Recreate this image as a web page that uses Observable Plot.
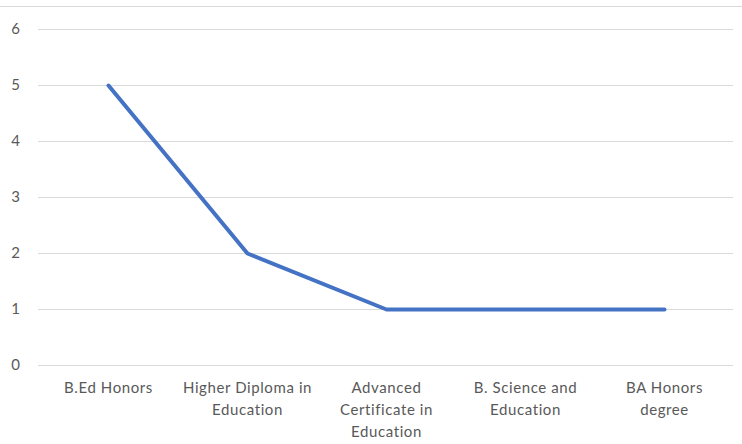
<!DOCTYPE html>
<html>
<head>
<meta charset="utf-8">
<script src="https://cdn.jsdelivr.net/npm/d3@7"></script>
<script src="https://cdn.jsdelivr.net/npm/@observablehq/plot@0.6"></script>
<style>
  body { margin: 0; background: #fff; }
  #top { height: 6px; border-bottom: 1px solid #d9d9d9; }
  #chart svg { display: block; }
  #chart svg text { letter-spacing: 0.6px; }
</style>
</head>
<body>
<div id="top"></div>
<div id="chart"></div>
<script>
const categories = ["B.Ed Honors", "Higher Diploma in Education", "Advanced Certificate in Education", "B. Science and Education", "BA Honors degree"];
const tickLabels = ["B.Ed Honors", "Higher Diploma in\nEducation", "Advanced\nCertificate in\nEducation", "B. Science and\nEducation", "BA Honors\ndegree"];
const values = [5, 2, 1, 1, 1];
const yTicks = [0, 1, 2, 3, 4, 5, 6];

const data = categories.map((c, i) => ({category: c, value: values[i]}));
const labelOf = new Map(categories.map((c, i) => [c, tickLabels[i]]));

const chart = Plot.plot({
  width: 742,
  height: 437,
  marginLeft: 38,
  marginRight: 9,
  marginTop: 22,
  marginBottom: 79,
  style: {fontFamily: "Lato, 'Open Sans', sans-serif", fontSize: "15px", color: "#595959", background: "#fff"},
  x: {type: "point", domain: categories, padding: 0.5, label: null},
  y: {domain: [0, 6], label: null},
  marks: [
    Plot.ruleY(yTicks, {stroke: "#d9d9d9", strokeWidth: 1}),
    Plot.axisY({ticks: yTicks, tickFormat: "d", tickSize: 0, tickPadding: 18, label: null, fill: "#595959", fontSize: 15}),
    Plot.axisX({tickSize: 0, tickPadding: 12, label: null, tickFormat: d => labelOf.get(d), lineHeight: 1.47, fill: "#595959", fontSize: 15}),
    Plot.line(data, {x: "category", y: "value", stroke: "#4472c4", strokeWidth: 4, strokeLinecap: "round", strokeLinejoin: "round"})
  ]
});
document.getElementById("chart").appendChild(chart);
</script>
</body>
</html>
